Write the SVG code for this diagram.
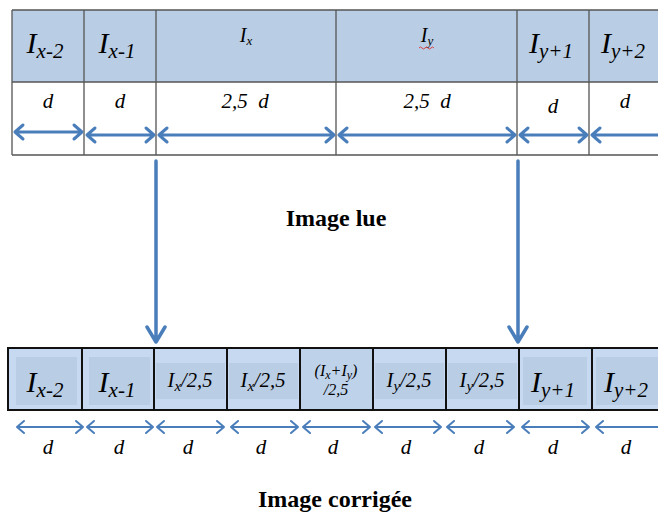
<svg xmlns="http://www.w3.org/2000/svg" width="658" height="512" viewBox="0 0 658 512">
<defs>
<style>
.t{font-family:'Liberation Serif','Times New Roman',serif;font-style:italic;fill:#000;text-anchor:middle}
.b{font-family:'Liberation Serif','Times New Roman',serif;font-weight:bold;fill:#000;text-anchor:middle;font-size:24px}
.big{font-size:30px}
.sub{font-size:21px}
.mid{font-size:20.5px}
.sm{font-size:13px}
.d{font-size:21px}
.grid{stroke:#555;stroke-width:1.3;fill:none}
.cell{fill:#c6d9f1;stroke:#111;stroke-width:2}
.in{fill:#b9cde5}
.arT{stroke:#4a7ebb;stroke-width:3;fill:none;stroke-linecap:round;stroke-linejoin:round}
.arB{stroke:#4a7ebb;stroke-width:2;fill:none;stroke-linecap:round;stroke-linejoin:round}
.arV{stroke:#4a7ebb;stroke-width:3.5;fill:none;stroke-linecap:round;stroke-linejoin:round}
</style>
</defs>
<rect width="658" height="512" fill="#fff"/>

<!-- Top table -->
<g id="top-table">
<rect x="12" y="10" width="660" height="72" fill="#b9cde5"/>
<path class="grid" d="M12 10H658M12 82H658M12 155H658M12 10V155M84 10V155M156 10V155M336 10V155M517 10V155M589 10V155"/>
</g>
<g id="top-labels">
<text class="t" x="45" y="53"><tspan class="big">I</tspan><tspan class="sub" dy="5">x-2</tspan></text>
<text class="t" x="117" y="53"><tspan class="big">I</tspan><tspan class="sub" dy="5">x-1</tspan></text>
<text class="t" x="246" y="42"><tspan style="font-size:20px">I</tspan><tspan class="sm" dy="3">x</tspan></text>
<text class="t" x="427" y="42"><tspan style="font-size:20px">I</tspan><tspan class="sm" dy="3">y</tspan></text>
<path d="M419 48q1.5-2 3 0t3 0t3 0t3 0t3 0" stroke="#d33" stroke-width="0.9" fill="none"/>
<text class="t" x="551" y="53"><tspan class="big">I</tspan><tspan class="sub" dy="5">y+1</tspan></text>
<text class="t" x="623" y="53"><tspan class="big">I</tspan><tspan class="sub" dy="5">y+2</tspan></text>
<text class="t d" x="48" y="108">d</text>
<text class="t d" x="120" y="108">d</text>
<text class="t d" x="245" y="108" xml:space="preserve">2,5  d</text>
<text class="t d" x="427" y="108" xml:space="preserve">2,5  d</text>
<text class="t d" x="553" y="113">d</text>
<text class="t d" x="625" y="108">d</text>
</g>
<g id="top-arrows">
<path class="arT" d="M15 132H82M23 125L15 132L23 139M74 125L82 132L74 139"/>
<path class="arT" d="M87 135H154M95 128L87 135L95 142M146 128L154 135L146 142"/>
<path class="arT" d="M159 135H334M167 128L159 135L167 142M326 128L334 135L326 142"/>
<path class="arT" d="M339 135H515M347 128L339 135L347 142M507 128L515 135L507 142"/>
<path class="arT" d="M520 135H587M528 128L520 135L528 142M579 128L587 135L579 142"/>
<path class="arT" d="M592 135H658M600 128L592 135L600 142"/>
</g>

<!-- connectors -->
<g id="connectors">
<path class="arV" d="M156 161V342M147 327L156 342L165 327"/>
<path class="arV" d="M518 161V342M509 327L518 342L527 327"/>
</g>

<text id="title-lue" class="b" x="336" y="226">Image lue</text>

<!-- Bottom row -->
<g id="bottom-row">
<rect class="cell" x="8" y="348" width="74" height="62"/>
<rect class="in" x="16" y="357" width="61" height="48"/>
<rect class="cell" x="82" y="348" width="72" height="62"/>
<rect class="in" x="89" y="357" width="61" height="48"/>
<rect class="cell" x="154" y="348" width="73" height="62"/>
<rect class="in" x="156" y="363" width="69" height="36"/>
<rect class="cell" x="227" y="348" width="73" height="62"/>
<rect class="in" x="229" y="363" width="69" height="36"/>
<rect class="cell" x="300" y="348" width="73" height="62" style="fill:#bed2ea"/>
<rect class="cell" x="373" y="348" width="73" height="62"/>
<rect class="in" x="375" y="363" width="69" height="36"/>
<rect class="cell" x="446" y="348" width="73" height="62"/>
<rect class="in" x="448" y="363" width="69" height="36"/>
<rect class="cell" x="519" y="348" width="73" height="62"/>
<rect class="in" x="523" y="357" width="64" height="48"/>
<rect class="cell" x="592" y="348" width="80" height="62"/>
<rect class="in" x="596" y="357" width="64" height="48"/>
</g>
<g id="bottom-labels">
<text class="t" x="45" y="392"><tspan class="big">I</tspan><tspan class="sub" dy="5">x-2</tspan></text>
<text class="t" x="117" y="392"><tspan class="big">I</tspan><tspan class="sub" dy="5">x-1</tspan></text>
<text class="t mid" x="190" y="387">I<tspan dy="4" style="font-size:15px">x</tspan><tspan dy="-4">/2,5</tspan></text>
<text class="t mid" x="263" y="387">I<tspan dy="4" style="font-size:15px">x</tspan><tspan dy="-4">/2,5</tspan></text>
<text class="t" style="font-size:16px" x="336" y="376">(I<tspan dy="3" style="font-size:12px">x</tspan><tspan dy="-3">+I</tspan><tspan dy="3" style="font-size:12px">y</tspan><tspan dy="-3">)</tspan></text>
<text class="t" style="font-size:16px" x="336" y="395">/2,5</text>
<text class="t mid" x="409" y="387">I<tspan dy="4" style="font-size:15px">y</tspan><tspan dy="-4">/2,5</tspan></text>
<text class="t mid" x="482" y="387">I<tspan dy="4" style="font-size:15px">y</tspan><tspan dy="-4">/2,5</tspan></text>
<text class="t" x="553" y="392"><tspan class="big">I</tspan><tspan class="sub" dy="5">y+1</tspan></text>
<text class="t" x="626" y="392"><tspan class="big">I</tspan><tspan class="sub" dy="5">y+2</tspan></text>
<text class="t d" x="48" y="454">d</text>
<text class="t d" x="119" y="454">d</text>
<text class="t d" x="188" y="454">d</text>
<text class="t d" x="261" y="454">d</text>
<text class="t d" x="333" y="454">d</text>
<text class="t d" x="406" y="454">d</text>
<text class="t d" x="479" y="454">d</text>
<text class="t d" x="553" y="454">d</text>
<text class="t d" x="626" y="454">d</text>
</g>
<g id="bottom-arrows">
<path class="arB" d="M17 427H83M24 421L17 427L24 433M76 421L83 427L76 433"/>
<path class="arB" d="M87 427H153M94 421L87 427L94 433M146 421L153 427L146 433"/>
<path class="arB" d="M157 427H224M164 421L157 427L164 433M217 421L224 427L217 433"/>
<path class="arB" d="M231 427H298M238 421L231 427L238 433M291 421L298 427L291 433"/>
<path class="arB" d="M303 427H370M310 421L303 427L310 433M363 421L370 427L363 433"/>
<path class="arB" d="M375 427H441M382 421L375 427L382 433M434 421L441 427L434 433"/>
<path class="arB" d="M447 427H514M454 421L447 427L454 433M507 421L514 427L507 433"/>
<path class="arB" d="M522 427H589M529 421L522 427L529 433M582 421L589 427L582 433"/>
<path class="arB" d="M596 427H658M603 421L596 427L603 433"/>
</g>

<text id="title-corrigee" class="b" x="335" y="507">Image corrigée</text>
</svg>
